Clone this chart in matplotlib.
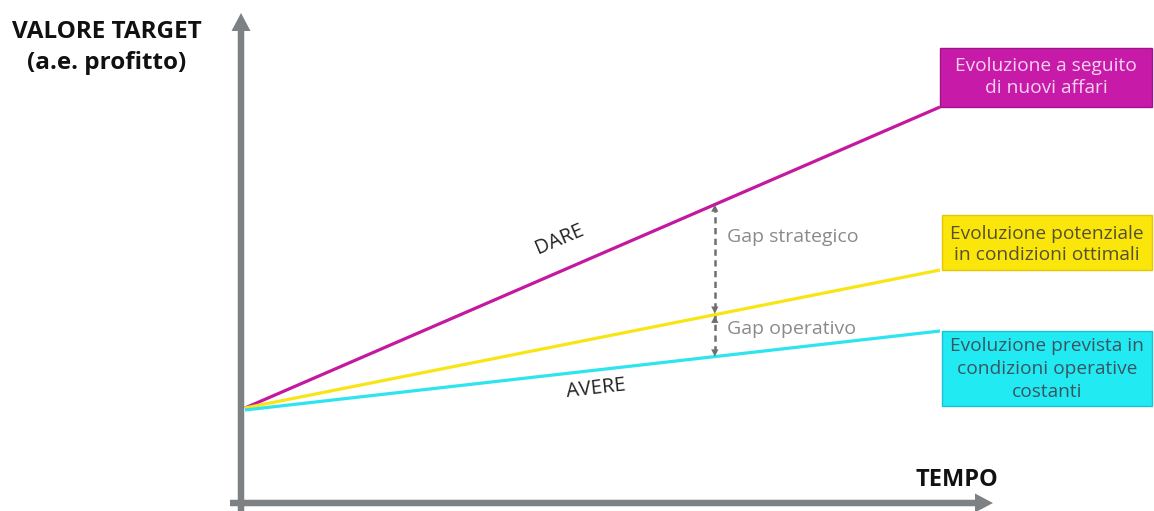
import numpy as np
import matplotlib.pyplot as plt
from matplotlib.patches import FancyArrow, Rectangle

plt.rcParams['font.family'] = ['Open Sans', 'DejaVu Sans']

# time axis (periods) and the three growth scenarios (value units)
tempo = [0.0, 10.0]
dare = [0.95, 3.96]           # new business
potenziale = [0.95, 2.33]     # optimal conditions
avere = [0.93, 1.72]          # constant operating conditions
t_gap = 6.76                  # where the gaps are measured

box_labels = ['Evoluzione a seguito\ndi nuovi affari',
              'Evoluzione potenziale\nin condizioni ottimali',
              'Evoluzione prevista in\ncondizioni operative\ncostanti']

W, H = 1154, 511
fig = plt.figure(figsize=(W / 100, H / 100), dpi=100)

# pixel canvas for the hand-drawn axes and the caption boxes
bg = fig.add_axes([0, 0, 1, 1])
bg.set_xlim(0, W); bg.set_ylim(H, 0); bg.axis('off')

# data axes: 69.5 px per period, 100 px per value unit, origin of values at the x axis
ax = fig.add_axes([0, 0, 1, 1], facecolor='none')
ax.set_xlim(-245 / 69.5, (W - 245) / 69.5)
ax.set_ylim(-(H - 503) / 100, 503 / 100)
ax.axis('off')

grey = '#7d8184'
bg.add_patch(FancyArrow(241, 511, 0, -498, width=6.5, head_width=19, head_length=18,
                        length_includes_head=True, color=grey, lw=0))
bg.add_patch(FancyArrow(230, 503, 763, 0, width=6.5, head_width=19, head_length=18,
                        length_includes_head=True, color=grey, lw=0))

bg.text(107, 32, 'VALORE TARGET', ha='center', va='center', fontsize=17.5,
        fontweight='bold', color='#111111')
bg.text(107, 63, '(a.e. profitto)', ha='center', va='center', fontsize=17.5,
        fontweight='bold', color='#111111')
bg.text(957, 480, 'TEMPO', ha='center', va='center', fontsize=17,
        fontweight='bold', color='#111111')

# scenario lines
ax.plot(tempo, dare, color='#c4189e', lw=2.3, solid_capstyle='butt', zorder=3)
ax.plot(tempo, potenziale, color='#f8e513', lw=2.3, solid_capstyle='butt', zorder=3)
ax.plot(tempo, avere, color='#2de4ef', lw=2.3, solid_capstyle='butt', zorder=3)

ax.text(4.52, 2.64, 'DARE', rotation=23, ha='center', va='center',
        fontsize=14.5, color='#222222')
ax.text(5.05, 1.14, 'AVERE', rotation=6.5, ha='center', va='center',
        fontsize=14.5, color='#222222')

# gap arrows between the scenarios
y_top = np.interp(t_gap, tempo, dare)
y_mid = np.interp(t_gap, tempo, potenziale)
y_bot = np.interp(t_gap, tempo, avere)
gcol = '#6f6f6f'
ax.plot([t_gap, t_gap], [y_bot + 0.05, y_top - 0.05], color=gcol, lw=1.8,
        ls=(0, (2.5, 1.8)), zorder=2)
for tip, tail in [(y_top, y_top - 0.1), (y_mid + 0.01, y_mid + 0.11),
                  (y_mid - 0.01, y_mid - 0.11), (y_bot, y_bot + 0.1)]:
    ax.annotate('', xy=(t_gap, tip), xytext=(t_gap, tail),
                arrowprops=dict(arrowstyle='-|>', color=gcol, lw=0,
                                mutation_scale=13, shrinkA=0, shrinkB=0))
ax.text(t_gap + 0.17, (y_top + y_mid) / 2 + 0.23, 'Gap strategico', ha='left',
        va='center', fontsize=14, color='#8a8a8a')
ax.text(t_gap + 0.17, (y_mid + y_bot) / 2 + 0.07, 'Gap operativo', ha='left',
        va='center', fontsize=14, color='#8a8a8a')

# caption boxes at the end of each line
boxes = [
    ((940, 48, 212, 59), '#c81aa9', '#a0148a', '#f6d3ef', (66, 88)),
    ((942, 215, 210, 55), '#fbe60c', '#e3c700', '#555030', (234, 255)),
    ((942, 331, 210, 75), '#22eaf3', '#18c3d3', '#3a5560', (346, 369, 392)),
]
for ((x, y, w, h), fc, ec, tc, rows), label in zip(boxes, box_labels):
    bg.add_patch(Rectangle((x, y), w, h, facecolor=fc, edgecolor=ec, lw=1, zorder=4))
    for ry, line in zip(rows, label.split('\n')):
        bg.text(x + w / 2, ry, line, ha='center', va='center', fontsize=13.8,
                color=tc, zorder=5)

fig.savefig('out.png', dpi=100)
